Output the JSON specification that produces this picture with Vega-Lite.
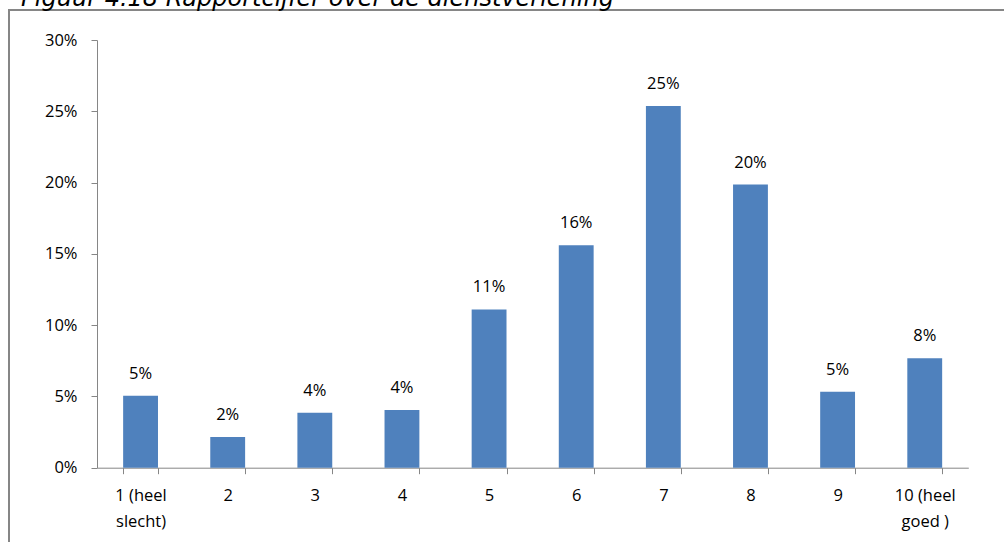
{
  "$schema": "https://vega.github.io/schema/vega-lite/v6.json",
  "autosize": "none",
  "padding": {"left": 9, "top": 10, "right": 0, "bottom": 0},
  "width": 1000,
  "height": 540,
  "background": "white",
  "config": {
    "view": {"stroke": "#868686", "strokeWidth": 2},
    "font": "Open Sans"
  },
  "title": {
    "text": "Figuur 4.18 Rapportcijfer over de dienstverlening",
    "anchor": "start",
    "frame": "group",
    "font": "DejaVu Sans",
    "fontStyle": "italic",
    "fontWeight": "normal",
    "fontSize": 24,
    "color": "#000000",
    "baseline": "alphabetic",
    "offset": -20,
    "dx": 12
  },
  "data": {
    "values": [
      {"cijfer": "1 (heel\nslecht)", "aandeel": 0.0505},
      {"cijfer": "2", "aandeel": 0.0215},
      {"cijfer": "3", "aandeel": 0.0385},
      {"cijfer": "4", "aandeel": 0.0404},
      {"cijfer": "5", "aandeel": 0.111},
      {"cijfer": "6", "aandeel": 0.156},
      {"cijfer": "7", "aandeel": 0.2537},
      {"cijfer": "8", "aandeel": 0.1986},
      {"cijfer": "9", "aandeel": 0.0533},
      {"cijfer": "10 (heel\ngoed )", "aandeel": 0.0767}
    ]
  },
  "encoding": {
    "x": {
      "field": "cijfer",
      "type": "nominal",
      "sort": null,
      "scale": {"range": [88, 959.3], "paddingInner": 0.6, "paddingOuter": 0.3},
      "axis": {
        "title": null,
        "offset": -82.3,
        "labelAngle": 0,
        "labelExpr": "split(datum.label, '\\n')",
        "labelLineHeight": 26,
        "labelFont": "Open Sans",
        "labelFontSize": 16.5,
        "labelColor": "#000000",
        "labelPadding": 14,
        "domainColor": "#868686",
        "tickColor": "#868686",
        "tickSize": 6,
        "tickBand": "extent",
        "grid": false
      }
    },
    "y": {
      "field": "aandeel",
      "type": "quantitative",
      "scale": {"domain": [0, 0.3], "range": [457.7, 30], "nice": false},
      "axis": {
        "title": null,
        "offset": -88,
        "values": [0, 0.05, 0.1, 0.15, 0.2, 0.25, 0.3],
        "format": ".0%",
        "labelFont": "Open Sans",
        "labelFontSize": 16.5,
        "labelColor": "#000000",
        "labelPadding": 14,
        "domainColor": "#868686",
        "tickColor": "#868686",
        "tickSize": 6,
        "grid": false
      }
    }
  },
  "layer": [
    {"mark": {"type": "bar", "color": "#4F81BD"}},
    {
      "mark": {"type": "text", "baseline": "alphabetic", "dy": -17, "fontSize": 16.5, "font": "Open Sans", "color": "#000000"},
      "encoding": {"text": {"field": "aandeel", "type": "quantitative", "format": ".0%"}}
    }
  ]
}
